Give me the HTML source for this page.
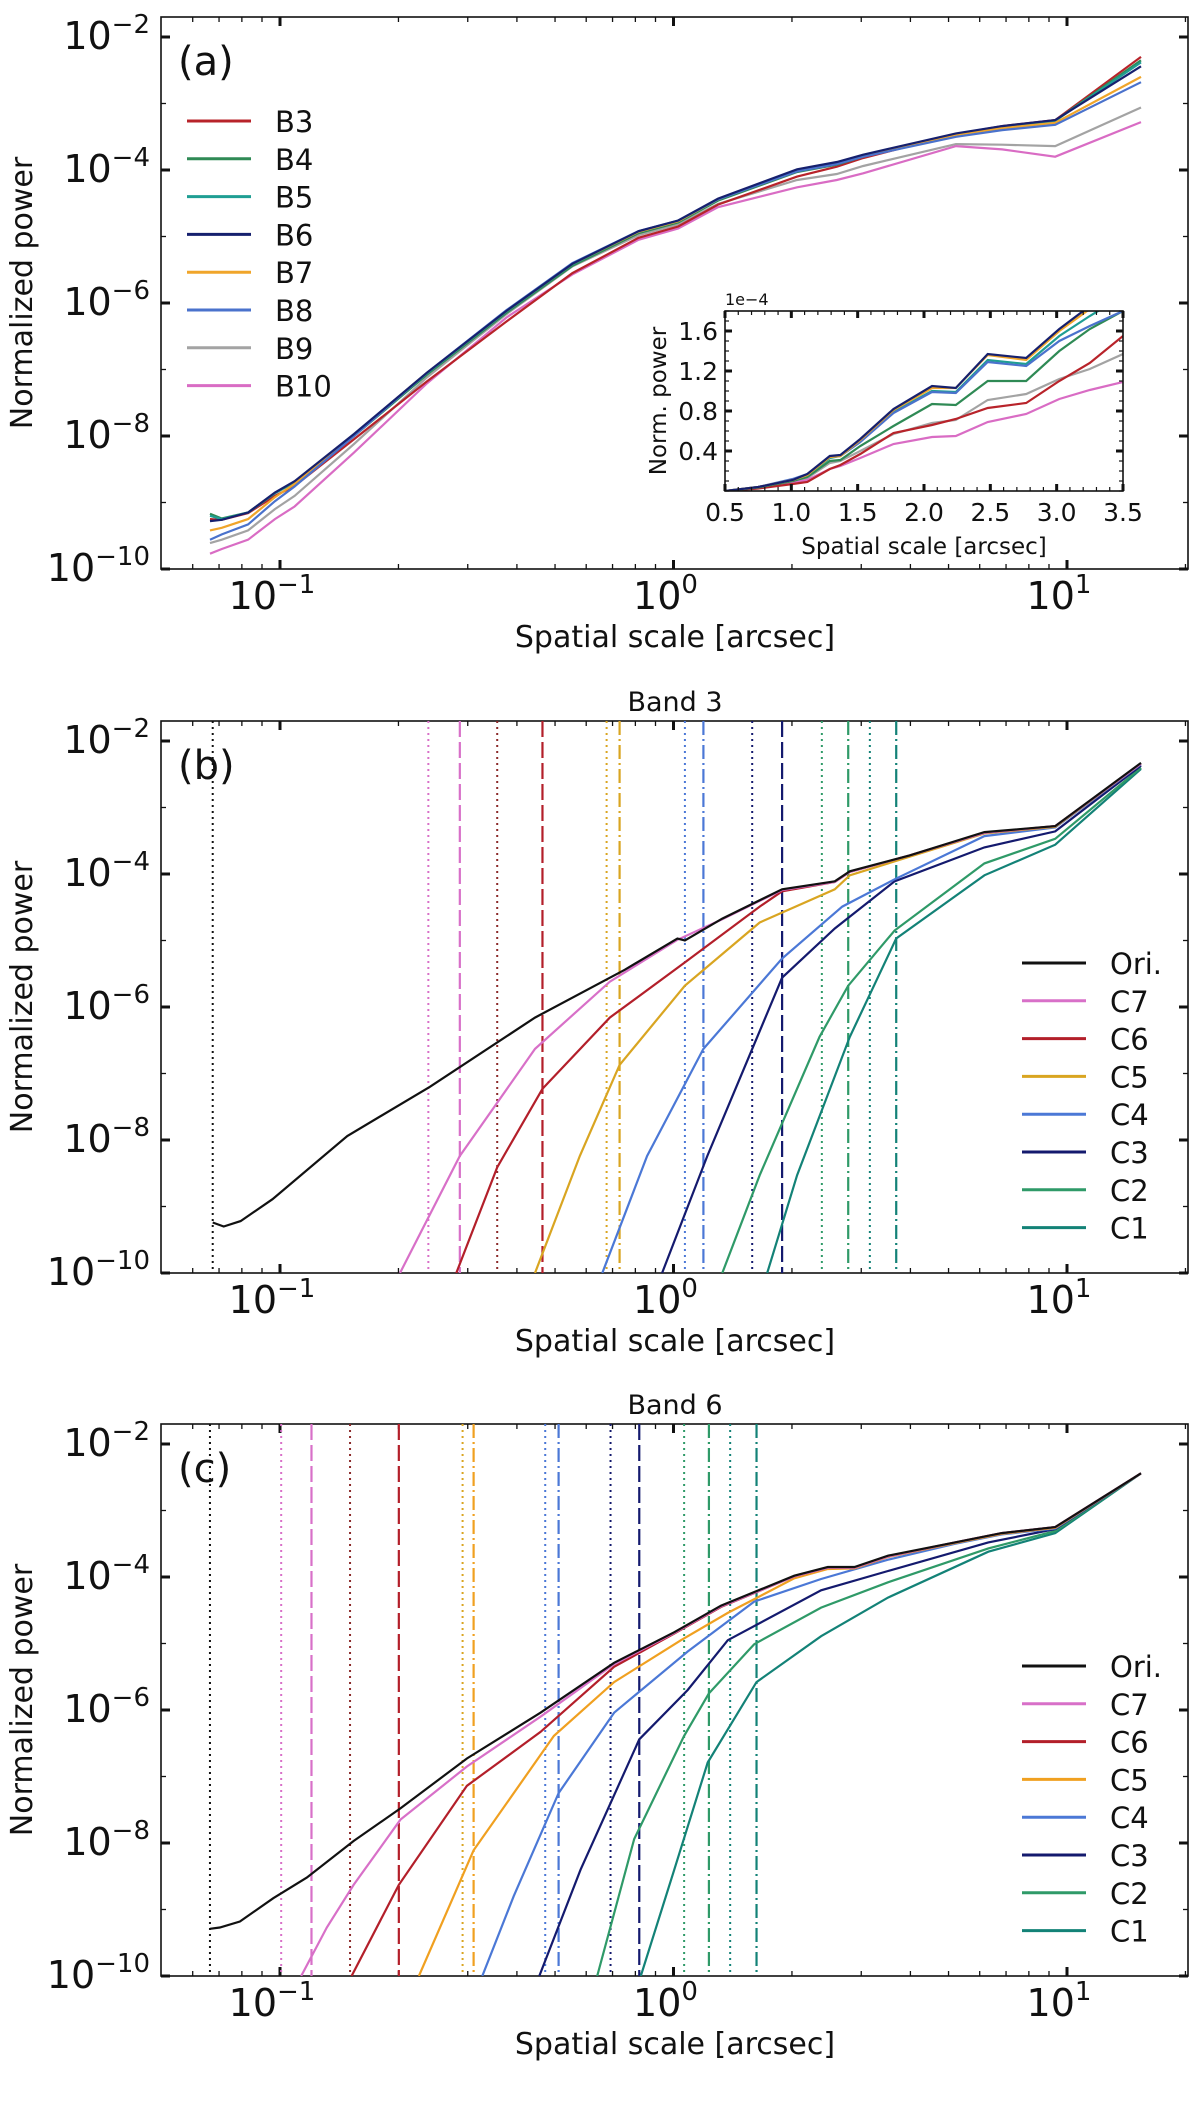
<!DOCTYPE html>
<html><head><meta charset="utf-8">
<style>
html,body{margin:0;padding:0;background:#fff;}
svg{display:block;font-family:"DejaVu Sans","Liberation Sans",sans-serif;}
</style></head>
<body>
<svg id="fig" xmlns="http://www.w3.org/2000/svg" width="1200" height="2126" viewBox="0 0 1200 2126">
<rect x="0" y="0" width="1200" height="2126" fill="#fff"/>
</svg>
<script>
// ---------- Panel (a) data: log10(scale [arcsec]) grid and log10(power) per band ----------
const aLogScale = [-1.178,-1.148,-1.081,-1.013,-0.963,-0.812,-0.627,-0.425,-0.257,-0.089,0.012,0.113,0.314,0.415,0.482,0.718,0.835,0.970,1.188];
const aB3 = [-9.25,-9.26,-9.16,-8.90,-8.75,-8.05,-7.18,-6.28,-5.55,-5.02,-4.85,-4.52,-4.10,-3.95,-3.82,-3.46,-3.34,-3.25,-2.30];
const aB4 = [-9.17,-9.24,-9.15,-8.86,-8.70,-8.00,-7.08,-6.15,-5.44,-4.95,-4.79,-4.46,-4.03,-3.92,-3.80,-3.46,-3.35,-3.26,-2.35];
const aB5 = [-9.20,-9.25,-9.15,-8.86,-8.69,-7.98,-7.06,-6.13,-5.42,-4.93,-4.77,-4.44,-4.00,-3.89,-3.78,-3.46,-3.35,-3.26,-2.38];
const aB6 = [-9.28,-9.26,-9.15,-8.85,-8.68,-7.97,-7.05,-6.12,-5.41,-4.92,-4.76,-4.43,-3.99,-3.88,-3.77,-3.45,-3.34,-3.25,-2.44];
const aB7 = [-9.42,-9.38,-9.25,-8.92,-8.72,-7.98,-7.05,-6.12,-5.41,-4.93,-4.77,-4.44,-4.00,-3.89,-3.78,-3.47,-3.37,-3.29,-2.60];
const aB8 = [-9.56,-9.48,-9.33,-8.98,-8.76,-8.00,-7.05,-6.11,-5.40,-4.92,-4.76,-4.44,-4.02,-3.91,-3.80,-3.50,-3.40,-3.32,-2.68];
const aB9 = [-9.61,-9.56,-9.42,-9.10,-8.90,-8.12,-7.12,-6.17,-5.45,-4.98,-4.82,-4.51,-4.15,-4.06,-3.94,-3.61,-3.62,-3.64,-3.06];
const aB10 = [-9.77,-9.70,-9.56,-9.25,-9.06,-8.25,-7.21,-6.22,-5.57,-5.05,-4.88,-4.56,-4.26,-4.15,-4.05,-3.64,-3.69,-3.80,-3.28];
const bandNames = ["B3","B4","B5","B6","B7","B8","B9","B10"];
const bandColors = ["#b8232a","#2f8a55","#1f9e93","#16206e","#f0a52a","#4a72cc","#a3a3a3","#d96cc4"];

// ---------- Inset data (linear) ----------
const inScale = [0.5,0.75,1.01,1.12,1.29,1.37,1.52,1.77,2.06,2.24,2.48,2.77,3.02,3.25,3.5];
const inB3 = [0,0.025,0.07,0.09,0.22,0.26,0.37,0.58,0.66,0.72,0.83,0.88,1.10,1.28,1.55];
const inB4 = [0,0.035,0.10,0.14,0.30,0.31,0.45,0.65,0.87,0.86,1.10,1.10,1.40,1.62,1.80];
const inB5 = [0,0.04,0.11,0.16,0.33,0.35,0.50,0.79,1.00,0.99,1.31,1.27,1.55,1.75,1.95];
const inB6 = [0,0.04,0.11,0.17,0.35,0.36,0.52,0.82,1.05,1.03,1.37,1.33,1.62,1.85,2.10];
const inB7 = [0,0.04,0.11,0.16,0.34,0.35,0.51,0.81,1.03,1.03,1.36,1.31,1.60,1.82,2.05];
const inB8 = [0,0.04,0.12,0.17,0.34,0.35,0.49,0.78,0.99,0.98,1.29,1.25,1.50,1.65,1.80];
const inB9 = [0,0.03,0.09,0.13,0.28,0.30,0.40,0.57,0.68,0.71,0.91,0.97,1.12,1.22,1.37];
const inB10 = [0,0.03,0.08,0.11,0.22,0.25,0.33,0.47,0.54,0.55,0.69,0.77,0.92,1.01,1.09];
const inXTicks = ["0.5","1.0","1.5","2.0","2.5","3.0","3.5"];
const inYTicks = ["0.4","0.8","1.2","1.6"];

// ---------- Panel (b) Band 3 (log10 scale, log10 power) ----------
const bOriX = [-1.171,-1.143,-1.10,-1.019,-0.829,-0.619,-0.352,-0.124,0.010,0.029,0.124,0.276,0.410,0.448,0.600,0.790,0.970,1.188];
const bOriY = [-9.24,-9.30,-9.22,-8.89,-7.94,-7.20,-6.16,-5.44,-4.97,-5.00,-4.67,-4.23,-4.11,-3.96,-3.72,-3.37,-3.28,-2.33];
const bC7X = [-0.695,-0.543,-0.352,-0.162,0.010,0.124,0.276,0.410,0.448,0.600,0.790,0.970,1.188];
const bC7Y = [-10,-8.24,-6.63,-5.62,-4.99,-4.68,-4.24,-4.12,-3.97,-3.72,-3.38,-3.28,-2.34];
const bC6X = [-0.552,-0.448,-0.333,-0.162,0.029,0.219,0.276,0.410,0.448,0.600,0.790,0.970,1.188];
const bC6Y = [-10,-8.41,-7.23,-6.16,-5.33,-4.49,-4.26,-4.12,-3.97,-3.72,-3.38,-3.28,-2.34];
const bC5X = [-0.352,-0.238,-0.137,0.029,0.219,0.410,0.448,0.600,0.790,0.970,1.188];
const bC5Y = [-10,-8.24,-6.87,-5.68,-4.73,-4.23,-4.02,-3.74,-3.39,-3.29,-2.34];
const bC4X = [-0.181,-0.067,0.076,0.276,0.429,0.562,0.790,0.970,1.188];
const bC4Y = [-10,-8.24,-6.63,-5.27,-4.49,-4.08,-3.43,-3.30,-2.35];
const bC3X = [-0.029,0.086,0.276,0.410,0.562,0.790,0.970,1.188];
const bC3Y = [-10,-8.24,-5.56,-4.82,-4.11,-3.60,-3.36,-2.37];
const bC2X = [0.124,0.219,0.371,0.444,0.562,0.790,0.970,1.188];
const bC2Y = [-10,-8.53,-6.45,-5.68,-4.85,-3.84,-3.47,-2.40];
const bC1X = [0.238,0.314,0.448,0.566,0.790,0.970,1.188];
const bC1Y = [-10,-8.53,-6.45,-4.97,-4.02,-3.56,-2.42];
const bCutDot = [-1.171,-0.623,-0.448,-0.170,0.029,0.200,0.377,0.499];
const bCutDash = [-0.543,-0.333,-0.137,0.076,0.276,0.444,0.566];

// ---------- Panel (c) Band 6 ----------
const cOriX = [-1.178,-1.153,-1.102,-1.017,-0.932,-0.813,-0.694,-0.525,-0.338,-0.151,0.002,0.121,0.307,0.392,0.460,0.545,0.715,0.834,0.970,1.188];
const cOriY = [-9.29,-9.27,-9.18,-8.83,-8.52,-7.97,-7.48,-6.73,-6.04,-5.29,-4.83,-4.43,-3.98,-3.85,-3.85,-3.68,-3.48,-3.34,-3.25,-2.44];
const cC7X = [-0.946,-0.881,-0.813,-0.694,-0.525,-0.338,-0.151,0.002,0.121,0.307,0.392,0.460,0.545,0.715,0.834,0.970,1.188];
const cC7Y = [-10,-9.27,-8.63,-7.65,-6.85,-6.10,-5.31,-4.84,-4.44,-3.99,-3.86,-3.86,-3.69,-3.48,-3.34,-3.25,-2.44];
const cC6X = [-0.818,-0.698,-0.525,-0.338,-0.151,0.002,0.121,0.307,0.392,0.460,0.545,0.715,0.834,0.970,1.188];
const cC6Y = [-10,-8.63,-7.14,-6.33,-5.35,-4.85,-4.45,-3.99,-3.86,-3.86,-3.69,-3.48,-3.34,-3.25,-2.44];
const cC5X = [-0.647,-0.508,-0.304,-0.151,0.019,0.138,0.307,0.392,0.460,0.545,0.715,0.834,0.970,1.188];
const cC5Y = [-10,-8.11,-6.39,-5.58,-4.95,-4.54,-4.02,-3.88,-3.87,-3.70,-3.49,-3.35,-3.26,-2.44];
const cC4X = [-0.486,-0.406,-0.292,-0.151,0.036,0.205,0.375,0.545,0.715,0.834,0.970,1.188];
const cC4Y = [-10,-8.80,-7.25,-6.04,-5.12,-4.37,-4.03,-3.74,-3.50,-3.36,-3.27,-2.44];
const cC3X = [-0.341,-0.236,-0.087,0.036,0.138,0.375,0.545,0.800,0.970,1.188];
const cC3Y = [-10,-8.40,-6.44,-5.70,-4.95,-4.20,-3.91,-3.48,-3.28,-2.44];
const cC2X = [-0.194,-0.100,0.027,0.090,0.205,0.375,0.545,0.800,0.970,1.188];
const cC2Y = [-10,-7.94,-6.39,-5.75,-5.01,-4.46,-4.08,-3.57,-3.31,-2.44];
const cC1X = [-0.083,0.002,0.087,0.211,0.375,0.545,0.800,0.970,1.188];
const cC1Y = [-10,-8.40,-6.79,-5.58,-4.89,-4.31,-3.62,-3.34,-2.44];
const cCutDot = [-1.178,-0.997,-0.822,-0.536,-0.326,-0.160,0.027,0.144];
const cCutDash = [-0.920,-0.698,-0.508,-0.292,-0.087,0.090,0.211];

const compNames = ["Ori.","C7","C6","C5","C4","C3","C2","C1"];
const compColorsB = ["#111111","#d870c8","#b31f2a","#d9a521","#4b78d6","#141a6e","#2f9a68","#138277"];
const compColorsC = ["#111111","#d870c8","#b31f2a","#f0a020","#4b78d6","#141a6e","#2f9a68","#138277"];
const dotColors = ["#111111","#d870c8","#8b2a2a","#d9a521","#4b78d6","#141a6e","#2f9a68","#138277"];
const yTickExp = [-2,-4,-6,-8,-10];
const xTickExp = [-1,0,1];

// ---------- helpers ----------
const NS = "http://www.w3.org/2000/svg";
const svg = document.getElementById("fig");
function mk(tag, attrs, parent) {
  const e = document.createElementNS(NS, tag);
  for (const k in attrs) e.setAttribute(k, attrs[k]);
  (parent || svg).appendChild(e);
  return e;
}
const BX0 = 161, BX1 = 1188;
function sx(lx) { return 280 + (lx + 1) * 393.5; }
function makeSy(top) { return function (ly) { return top + 20 + (-2 - ly) * 66.5; }; }
function pathD(xs, ys, fx, fy) {
  let d = "";
  for (let i = 0; i < xs.length; i++) d += (i ? "L" : "M") + fx(xs[i]).toFixed(1) + "," + fy(ys[i]).toFixed(1);
  return d;
}

function drawAxes(top, key, title, letter) {
  const bot = top + 552;
  const sy = makeSy(top);
  const g = mk("g", {});
  
  
  const cp = mk("clipPath", { id: "clip-" + key }, g);
  mk("rect", { x: BX0, y: top, width: BX1 - BX0, height: 552 }, cp);
  const fr = mk("rect", { x: BX0, y: top, width: BX1 - BX0, height: 552, fill: "none", stroke: "#111", "stroke-width": 1.6 }, g);
  
  
  for (let d = -2; d <= 1; d++) {
    for (let m = 1; m <= 9; m++) {
      const lx = d + Math.log10(m);
      const x = sx(lx);
      if (x < BX0 + 1 || x > BX1 - 1) continue;
      const L = m === 1 ? 9 : 5, w = m === 1 ? 3 : 1.3;
      mk("line", { x1: x, x2: x, y1: bot, y2: bot - L, stroke: "#111", "stroke-width": w }, g);
      mk("line", { x1: x, x2: x, y1: top, y2: top + L, stroke: "#111", "stroke-width": w }, g);
    }
  }
  for (let e = -10; e <= -2; e++) {
    const y = sy(e);
    const major = e % 2 === 0;
    const L = major ? 9 : 5, w = major ? 3 : 1.3;
    mk("line", { x1: BX0, x2: BX0 + L, y1: y, y2: y, stroke: "#111", "stroke-width": w }, g);
    mk("line", { x1: BX1, x2: BX1 - L, y1: y, y2: y, stroke: "#111", "stroke-width": w }, g);
  }
  yTickExp.forEach(function (e) {
    const t = mk("text", { x: 150, y: sy(e) + 12, "text-anchor": "end", "font-size": 38, fill: "#111" }, g);
    
    
    t.appendChild(document.createTextNode("10"));
    const ts = mk("tspan", { dy: -16, "font-size": 26 }, t);
    ts.textContent = "\u2212" + Math.abs(e);
  });
  xTickExp.forEach(function (e) {
    const t = mk("text", { x: sx(e) - 8, y: bot + 40, "text-anchor": "middle", "font-size": 38, fill: "#111" }, g);
    
    
    t.appendChild(document.createTextNode("10"));
    const ts = mk("tspan", { dy: -16, "font-size": 26 }, t);
    ts.textContent = (e < 0 ? "\u2212" : "") + Math.abs(e);
  });
  const xl = mk("text", { x: 675, y: bot + 78, "text-anchor": "middle", "font-size": 30, fill: "#111" }, g);
  
  
  xl.textContent = "Spatial scale [arcsec]";
  const yl = mk("text", { x: 0, y: 0, "text-anchor": "middle", "font-size": 30, fill: "#111", transform: "translate(32," + (top + 276) + ") rotate(-90)" }, g);
  
  
  yl.textContent = "Normalized power";
  if (title) {
    const tt = mk("text", { x: 675, y: top - 10, "text-anchor": "middle", "font-size": 27, fill: "#111" }, g);
    
    
    tt.textContent = title;
  }
  const pl = mk("text", { x: 178, y: top + 58, "font-size": 40, fill: "#111" }, g);
  
  
  pl.textContent = letter;
  return sy;
}

function legend(x0, y0, names, colors, key) {
  const g = mk("g", {});
  
  
  names.forEach(function (n, i) {
    const y = y0 + i * 37.8;
    const ln = mk("line", { x1: x0, x2: x0 + 64, y1: y, y2: y, stroke: colors[i], "stroke-width": 3 }, g);
    
    
    const t = mk("text", { x: x0 + 88, y: y + 11, "font-size": 29, fill: "#111" }, g);
    
    
    t.textContent = n;
  });
}

// ================= Panel (a) =================
const syA = drawAxes(17, "panel-a", null, "(a)");
const aSeries = [aB3, aB4, aB5, aB6, aB7, aB8, aB9, aB10];
const drawOrderA = [6, 7, 0, 1, 2, 4, 5, 3];
drawOrderA.forEach(function (i) {
  const p = mk("path", { d: pathD(aLogScale, aSeries[i], sx, syA), fill: "none", stroke: bandColors[i], "stroke-width": 2.2, "clip-path": "url(#clip-panel-a)" });
  
  
});
legend(187, 121, bandNames, bandColors, "panel-a");

// ---------- inset ----------
(function () {
  const X0 = 725, X1 = 1123, Y0 = 311, Y1 = 491;
  const ix = function (v) { return X0 + (v - 0.5) / 3 * (X1 - X0); };
  const iy = function (v) { return Y1 - v / 1.8 * (Y1 - Y0); };
  const g = mk("g", {});
  
  
  const bg = mk("rect", { x: X0, y: Y0, width: X1 - X0, height: Y1 - Y0, fill: "#fff" }, g);
  
  
  const cp = mk("clipPath", { id: "clip-inset" }, g);
  mk("rect", { x: X0, y: Y0, width: X1 - X0, height: Y1 - Y0 }, cp);
  const ins = [inB3, inB4, inB5, inB6, inB7, inB8, inB9, inB10];
  [6, 7, 0, 1, 2, 5, 4, 3].forEach(function (i) {
    const p = mk("path", { d: pathD(inScale, ins[i], ix, iy), fill: "none", stroke: bandColors[i], "stroke-width": 2.2, "clip-path": "url(#clip-inset)" }, g);
    
    
  });
  mk("rect", { x: X0, y: Y0, width: X1 - X0, height: Y1 - Y0, fill: "none", stroke: "#111", "stroke-width": 1.6 }, g);
  for (let k = 0; k <= 30; k++) {
    const x = ix(0.5 + k * 0.1);
    const major = k % 5 === 0;
    const L = major ? 7 : 4, w = major ? 3 : 1.2;
    mk("line", { x1: x, x2: x, y1: Y1, y2: Y1 - L, stroke: "#111", "stroke-width": w }, g);
    mk("line", { x1: x, x2: x, y1: Y0, y2: Y0 + L, stroke: "#111", "stroke-width": w }, g);
  }
  for (let k = 0; k <= 18; k++) {
    const y = iy(k * 0.1);
    const major = k % 4 === 0 && k > 0;
    const L = major ? 7 : 4, w = major ? 3 : 1.2;
    mk("line", { x1: X0, x2: X0 + L, y1: y, y2: y, stroke: "#111", "stroke-width": w }, g);
    mk("line", { x1: X1, x2: X1 - L, y1: y, y2: y, stroke: "#111", "stroke-width": w }, g);
  }
  inXTicks.forEach(function (s) {
    const t = mk("text", { x: ix(parseFloat(s)), y: Y1 + 30, "text-anchor": "middle", "font-size": 25, fill: "#111" }, g);
    
    
    t.textContent = s;
  });
  inYTicks.forEach(function (s) {
    const t = mk("text", { x: X0 - 7, y: iy(parseFloat(s)) + 9, "text-anchor": "end", "font-size": 25, fill: "#111" }, g);
    
    
    t.textContent = s;
  });
  const ex = mk("text", { x: X0, y: Y0 - 6, "font-size": 16, fill: "#111" }, g);
  
  
  ex.textContent = "1e\u22124";
  const xt = mk("text", { x: (X0 + X1) / 2, y: Y1 + 63, "text-anchor": "middle", "font-size": 23, fill: "#111" }, g);
  
  
  xt.textContent = "Spatial scale [arcsec]";
  const yt = mk("text", { x: 0, y: 0, "text-anchor": "middle", "font-size": 23, fill: "#111", transform: "translate(666," + ((Y0 + Y1) / 2) + ") rotate(-90)" }, g);
  
  
  yt.textContent = "Norm. power";
})();

// ================= Panels (b) and (c) =================
function compPanel(top, key, title, letter, xsList, ysList, dots, dashes, colors) {
  const sy = drawAxes(top, key, title, letter);
  const bot = top + 552;
  dots.forEach(function (lx, i) {
    const l = mk("line", { x1: sx(lx), x2: sx(lx), y1: top, y2: bot, stroke: dotColors[i], "stroke-width": 2, "stroke-dasharray": "2,4", "clip-path": "url(#clip-" + key + ")" });
    
    
  });
  dashes.forEach(function (lx, i) {
    const dash = (i === 0 || i === 1 || i === 4) ? "16,5" : "14,4,2,4";
    const l = mk("line", { x1: sx(lx), x2: sx(lx), y1: top, y2: bot, stroke: colors[i + 1], "stroke-width": 2.2, "stroke-dasharray": dash, "clip-path": "url(#clip-" + key + ")" });
    
    
  });
  for (let i = xsList.length - 1; i >= 0; i--) {
    const p = mk("path", { d: pathD(xsList[i], ysList[i], sx, sy), fill: "none", stroke: colors[i], "stroke-width": 2.2, "clip-path": "url(#clip-" + key + ")" });
    
    
  }
  legend(1022, top + 242, compNames, colors, key);
}
compPanel(721, "panel-b", "Band 3", "(b)",
  [bOriX, bC7X, bC6X, bC5X, bC4X, bC3X, bC2X, bC1X],
  [bOriY, bC7Y, bC6Y, bC5Y, bC4Y, bC3Y, bC2Y, bC1Y],
  bCutDot, bCutDash, compColorsB);
compPanel(1424, "panel-c", "Band 6", "(c)",
  [cOriX, cC7X, cC6X, cC5X, cC4X, cC3X, cC2X, cC1X],
  [cOriY, cC7Y, cC6Y, cC5Y, cC4Y, cC3Y, cC2Y, cC1Y],
  cCutDot, cCutDash, compColorsC);
</script>
</body></html>
